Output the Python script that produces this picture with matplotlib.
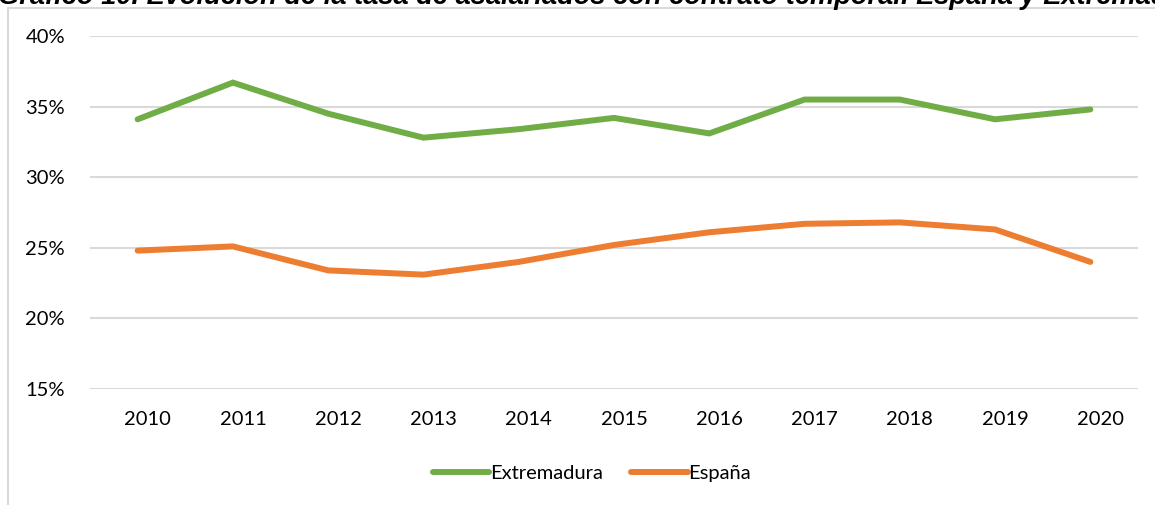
import matplotlib
matplotlib.use("Agg")
import matplotlib.pyplot as plt
import matplotlib.transforms as mtransforms
from matplotlib.patches import Rectangle
from matplotlib.ticker import FuncFormatter

# ----------------------- data -----------------------
years = [2010, 2011, 2012, 2013, 2014, 2015, 2016, 2017, 2018, 2019, 2020]
extremadura = [34.1, 36.7, 34.5, 32.8, 33.4, 34.2, 33.1, 35.5, 35.5, 34.1, 34.8]
espana = [24.8, 25.1, 23.4, 23.1, 24.0, 25.2, 26.1, 26.7, 26.8, 26.3, 24.0]
y_ticks = [15, 20, 25, 30, 35, 40]
title = ("Gráfico 10. Evolución de la tasa de asalariados con contrato temporal. "
         "España y Extremadura")

GREEN = "#70AD47"
ORANGE = "#ED7D31"
GRID = "#D9D9D9"

plt.rcParams["font.family"] = ["Lato", "DejaVu Sans"]

fig = plt.figure(figsize=(11.55, 5.05), dpi=100)
ax = fig.add_axes([90 / 1155, 1 - 389 / 505, (1138 - 90) / 1155, (389 - 36) / 505])

# lines
ax.plot(years, extremadura, color=GREEN, lw=4.3, solid_capstyle="round",
        solid_joinstyle="miter", label="Extremadura")
ax.plot(years, espana, color=ORANGE, lw=4.3, solid_capstyle="round",
        solid_joinstyle="miter", label="España")

# axes
ax.set_xlim(2009.5, 2020.5)
ax.set_ylim(15, 40)
ax.set_xticks(years)
ax.set_yticks(y_ticks)
ax.yaxis.set_major_formatter(FuncFormatter(lambda v, p: f"{v:.0f}%"))
ax.tick_params(axis="both", length=0, labelsize=14.5, colors="#000000")
ax.tick_params(axis="y", pad=18)
ax.tick_params(axis="x", pad=16)
ax.grid(axis="y", color=GRID, lw=1.5)
ax.set_axisbelow(True)
for s in ax.spines.values():
    s.set_visible(False)

# the year labels sit slightly to the right of the points in the original
shift = mtransforms.ScaledTranslation(10 / 100, 0, fig.dpi_scale_trans)
for lab in ax.get_xticklabels():
    lab.set_transform(lab.get_transform() + shift)

# legend
ax.legend(loc="center", bbox_to_anchor=(592 / 1155, 1 - 473 / 505),
          bbox_transform=fig.transFigure, ncol=2, frameon=False, fontsize=14.5,
          handlelength=2.8, handletextpad=0.05, columnspacing=1.4)

# chart frame (light grey border)
fig.patches.append(Rectangle((7.5 / 1155, -0.1), 1.2, 1.1 - 7.5 / 505,
                             transform=fig.transFigure, fill=False,
                             edgecolor="#D9D9D9", lw=1.5))

# title, cut off at the top like in the original
fig.text(-2 / 1155, 1 - 4 / 505, title, ha="left", va="baseline",
         fontsize=19.6, fontweight="bold", fontstyle="italic",
         family=["Liberation Sans", "DejaVu Sans"])

fig.savefig("out.png", dpi=100)
